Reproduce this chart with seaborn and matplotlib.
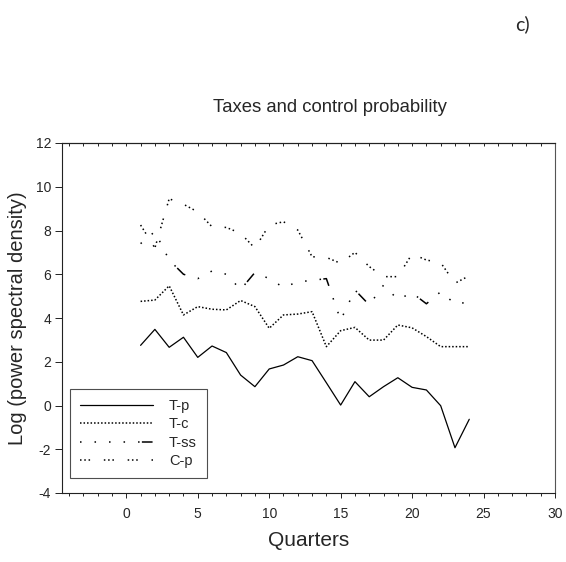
import matplotlib
matplotlib.use("Agg")
import matplotlib.pyplot as plt
from matplotlib.ticker import MultipleLocator, FixedLocator
import seaborn as sns
import pandas as pd

# Spectral estimates by period (quarters)
quarters = list(range(1, 25))
t_p = [2.75, 3.48, 2.66, 3.12, 2.20, 2.72, 2.42, 1.39, 0.86, 1.67, 1.85, 2.23,
       2.05, 1.04, 0.02, 1.09, 0.40, 0.86, 1.27, 0.83, 0.71, -0.01, -1.93, -0.63]
t_c = [4.76, 4.82, 5.47, 4.14, 4.52, 4.40, 4.37, 4.80, 4.52, 3.53, 4.14, 4.18,
       4.29, 2.69, 3.42, 3.57, 2.99, 2.99, 3.68, 3.55, 3.15, 2.69, 2.69, 2.69]
t_ss = [7.40, 7.95, 6.65, 6.00, 5.80, 6.15, 6.00, 5.30, 6.08, 5.80, 5.40, 5.65,
        5.72, 5.80, 3.90, 5.28, 4.60, 5.50, 4.85, 5.15, 4.65, 5.20, 4.65, 4.72]
c_p = [8.25, 7.20, 9.45, 9.20, 8.85, 8.17, 8.14, 7.87, 7.19, 8.25, 8.40, 8.02,
       6.80, 6.77, 6.50, 7.00, 6.35, 5.89, 5.89, 6.93, 6.65, 6.53, 5.59, 5.93]

series_names = ["T-p", "T-c", "T-ss", "C-p"]
series_values = [t_p, t_c, t_ss, c_p]

x_ticks = [0, 5, 10, 15, 20, 25, 30]
y_ticks = [-4, -2, 0, 2, 4, 6, 8, 10, 12]

line_styles = {
    "T-p": "-",
    "T-c": (0, (1.0, 1.3)),
    "T-ss": (0, (1, 8.5, 1, 8.5, 1, 8.5, 1, 8.5, 1, 1.5, 7, 8.5)),
    "C-p": (0, (1, 1.8, 1, 1.8, 1, 9)),
}
line_widths = {"T-p": 0.9, "T-c": 1.1, "T-ss": 1.1, "C-p": 1.1}

df = pd.DataFrame({
    "Quarter": quarters * len(series_names),
    "value": sum(series_values, []),
    "series": [n for n in series_names for _ in quarters],
})

sns.set_theme(style="white")
plt.rcParams["font.family"] = ["Liberation Sans", "DejaVu Sans"]

fig = plt.figure(figsize=(5.66, 5.62), dpi=100)
ax = fig.add_axes([62 / 566, 1 - 493 / 562, 493 / 566, 350 / 562])

for name in series_names:
    sub = df[df["series"] == name]
    sns.lineplot(data=sub, x="Quarter", y="value", ax=ax, color="black",
                 linestyle=line_styles[name], linewidth=line_widths[name],
                 label=name, estimator=None, sort=False)

ax.set_xlim(-4.5, 30)
ax.set_ylim(-4, 12)
ax.xaxis.set_major_locator(FixedLocator(x_ticks))
ax.xaxis.set_minor_locator(MultipleLocator(1))
ax.yaxis.set_major_locator(FixedLocator(y_ticks))

ax.tick_params(axis="x", which="major", direction="out", length=3.4, width=0.7,
               color="#222222", labelsize=10, pad=7, bottom=True, top=False)
ax.tick_params(axis="x", which="minor", direction="out", length=2.4, width=0.7,
               color="#222222", bottom=True, top=False)
ax.tick_params(axis="y", which="major", direction="out", length=4.8, width=0.7,
               color="#222222", labelsize=10, pad=3, left=True, right=False)
ax.set_yticklabels([str(v) for v in y_ticks])
ax.set_xticklabels([str(v) for v in x_ticks])

# inward unit ticks along the top edge
top = ax.secondary_xaxis("top")
top.xaxis.set_major_locator(MultipleLocator(1))
top.tick_params(axis="x", direction="in", length=2.5, width=0.7, color="#222222",
                labeltop=False)
top.spines["top"].set_linewidth(0.8)
top.spines["top"].set_color("#222222")

for side in ["left", "bottom", "top"]:
    ax.spines[side].set_visible(True)
    ax.spines[side].set_color("#222222")
    ax.spines[side].set_linewidth(0.8)
ax.spines["right"].set_visible(True)
ax.spines["right"].set_color("#555555")
ax.spines["right"].set_linewidth(0.8)

ax.set_xlabel("Quarters", fontsize=15, labelpad=7)
ax.set_ylabel("Log (power spectral density)", fontsize=14.5, labelpad=6)

leg = ax.legend(loc="lower left", bbox_to_anchor=(0.016, 0.042), borderaxespad=0,
                frameon=True, fancybox=False, fontsize=10.5, handlelength=5.0,
                handletextpad=1.1, labelspacing=0.3, borderpad=0.7)
leg.get_frame().set_edgecolor("#222222")
leg.get_frame().set_linewidth(0.8)

fig.text(330 / 566, 1 - 107 / 562, "Taxes and control probability",
         ha="center", va="center", fontsize=13.3)
fig.text(522 / 566, 1 - 24 / 562, "c)", ha="center", va="center",
         fontsize=14, family=["Lato", "DejaVu Sans"])

fig.savefig("out.png", dpi=100)
